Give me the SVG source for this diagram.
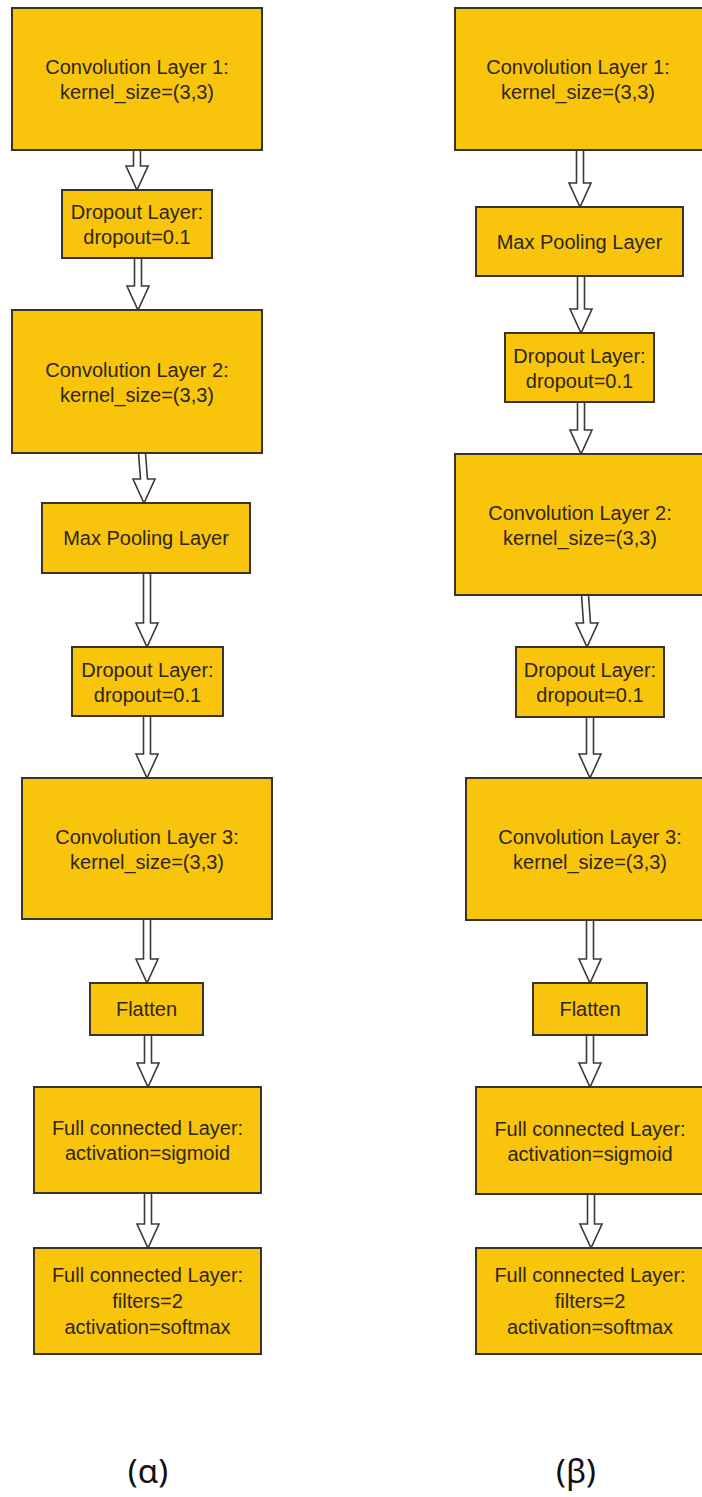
<svg xmlns="http://www.w3.org/2000/svg" width="702" height="1497" viewBox="0 0 702 1497">
  <style>
    .box { fill: #F9C40C; stroke: #3a3328; stroke-width: 2; }
    .lbl { font-family: "Liberation Sans", Arial, sans-serif; font-size: 20px; fill: #2e2614; text-anchor: middle; }
    .arrow { fill: #ffffff; stroke: #3a3a3a; stroke-width: 1.6; stroke-linejoin: miter; }
    .cap { font-family: "Noto Sans", "Open Sans", sans-serif; font-size: 33px; fill: #111111; text-anchor: middle; }
  </style>
  <rect width="702" height="1497" fill="#ffffff"/>

  <!-- connectors: hollow block arrows -->
  <g id="connectors">
    <!-- column (a) -->
    <polygon class="arrow" points="133.5,150 140.5,150 140.5,166 148,166 137,190 126,166 133.5,166"/>
    <polygon class="arrow" points="134.5,258 141.5,258 141.5,286 149,286 138,310 127,286 134.5,286"/>
    <polygon class="arrow" points="138.5,453 145.5,453 147.5,479 155,479 144,503 133,479 140.5,479"/>
    <polygon class="arrow" points="143.5,573 150.5,573 150.5,623 158,623 147,647 136,623 143.5,623"/>
    <polygon class="arrow" points="143.5,716 150.5,716 150.5,754 158,754 147,778 136,754 143.5,754"/>
    <polygon class="arrow" points="143.5,919 150.5,919 150.5,959 158,959 147,983 136,959 143.5,959"/>
    <polygon class="arrow" points="144.5,1035 151.5,1035 151.5,1063 159,1063 148,1087 137,1063 144.5,1063"/>
    <polygon class="arrow" points="144.5,1193 151.5,1193 151.5,1224 159,1224 148,1248 137,1224 144.5,1224"/>
    <!-- column (b) -->
    <polygon class="arrow" points="576.5,150 583.5,150 583.5,183 591,183 580,207 569,183 576.5,183"/>
    <polygon class="arrow" points="577.5,276 584.5,276 584.5,309 592,309 581,333 570,309 577.5,309"/>
    <polygon class="arrow" points="577.5,402 584.5,402 584.5,430 592,430 581,454 570,430 577.5,430"/>
    <polygon class="arrow" points="581.5,595 588.5,595 590.5,623 598,623 587,647 576,623 583.5,623"/>
    <polygon class="arrow" points="586.5,717 593.5,717 593.5,754 601,754 590,778 579,754 586.5,754"/>
    <polygon class="arrow" points="586.5,920 593.5,920 593.5,959 601,959 590,983 579,959 586.5,959"/>
    <polygon class="arrow" points="586.5,1035 593.5,1035 593.5,1063 601,1063 590,1087 579,1063 586.5,1063"/>
    <polygon class="arrow" points="587.5,1194 594.5,1194 594.5,1224 602,1224 591,1248 580,1224 587.5,1224"/>
  </g>

  <!-- column (a) nodes -->
  <g id="a-conv1">
    <rect class="box" x="12" y="8" width="250" height="142"/>
    <text class="lbl" x="137" y="74">Convolution Layer 1:</text>
    <text class="lbl" x="137" y="99">kernel_size=(3,3)</text>
  </g>
  <g id="a-dropout1">
    <rect class="box" x="62" y="190" width="150" height="68"/>
    <text class="lbl" x="137" y="219">Dropout Layer:</text>
    <text class="lbl" x="137" y="244">dropout=0.1</text>
  </g>
  <g id="a-conv2">
    <rect class="box" x="12" y="310" width="250" height="143"/>
    <text class="lbl" x="137" y="376.5">Convolution Layer 2:</text>
    <text class="lbl" x="137" y="401.5">kernel_size=(3,3)</text>
  </g>
  <g id="a-maxpool">
    <rect class="box" x="42" y="503" width="208" height="70"/>
    <text class="lbl" x="146" y="545">Max Pooling Layer</text>
  </g>
  <g id="a-dropout2">
    <rect class="box" x="72" y="647" width="151" height="69"/>
    <text class="lbl" x="147.5" y="676.5">Dropout Layer:</text>
    <text class="lbl" x="147.5" y="701.5">dropout=0.1</text>
  </g>
  <g id="a-conv3">
    <rect class="box" x="22" y="778" width="250" height="141"/>
    <text class="lbl" x="147" y="843.5">Convolution Layer 3:</text>
    <text class="lbl" x="147" y="868.5">kernel_size=(3,3)</text>
  </g>
  <g id="a-flatten">
    <rect class="box" x="90" y="983" width="113" height="52"/>
    <text class="lbl" x="146.5" y="1016">Flatten</text>
  </g>
  <g id="a-fc1">
    <rect class="box" x="34" y="1087" width="227" height="106"/>
    <text class="lbl" x="147.5" y="1135">Full connected Layer:</text>
    <text class="lbl" x="147.5" y="1160">activation=sigmoid</text>
  </g>
  <g id="a-fc2">
    <rect class="box" x="34" y="1248" width="227" height="106"/>
    <text class="lbl" x="147.5" y="1282">Full connected Layer:</text>
    <text class="lbl" x="147.5" y="1308">filters=2</text>
    <text class="lbl" x="147.5" y="1334">activation=softmax</text>
  </g>

  <!-- column (b) nodes -->
  <g id="b-conv1">
    <rect class="box" x="455" y="8" width="250" height="142"/>
    <text class="lbl" x="578" y="74">Convolution Layer 1:</text>
    <text class="lbl" x="578" y="99">kernel_size=(3,3)</text>
  </g>
  <g id="b-maxpool">
    <rect class="box" x="476" y="207" width="207" height="69"/>
    <text class="lbl" x="579.5" y="248.5">Max Pooling Layer</text>
  </g>
  <g id="b-dropout1">
    <rect class="box" x="505" y="333" width="149" height="69"/>
    <text class="lbl" x="579.5" y="362.5">Dropout Layer:</text>
    <text class="lbl" x="579.5" y="387.5">dropout=0.1</text>
  </g>
  <g id="b-conv2">
    <rect class="box" x="455" y="454" width="250" height="141"/>
    <text class="lbl" x="580" y="519.5">Convolution Layer 2:</text>
    <text class="lbl" x="580" y="544.5">kernel_size=(3,3)</text>
  </g>
  <g id="b-dropout2">
    <rect class="box" x="516" y="647" width="148" height="70"/>
    <text class="lbl" x="590" y="677">Dropout Layer:</text>
    <text class="lbl" x="590" y="702">dropout=0.1</text>
  </g>
  <g id="b-conv3">
    <rect class="box" x="466" y="778" width="250" height="142"/>
    <text class="lbl" x="590" y="844">Convolution Layer 3:</text>
    <text class="lbl" x="590" y="869">kernel_size=(3,3)</text>
  </g>
  <g id="b-flatten">
    <rect class="box" x="533" y="983" width="114" height="52"/>
    <text class="lbl" x="590" y="1016">Flatten</text>
  </g>
  <g id="b-fc1">
    <rect class="box" x="476" y="1087" width="230" height="107"/>
    <text class="lbl" x="590" y="1135.5">Full connected Layer:</text>
    <text class="lbl" x="590" y="1160.5">activation=sigmoid</text>
  </g>
  <g id="b-fc2">
    <rect class="box" x="476" y="1248" width="230" height="106"/>
    <text class="lbl" x="590" y="1282">Full connected Layer:</text>
    <text class="lbl" x="590" y="1308">filters=2</text>
    <text class="lbl" x="590" y="1334">activation=softmax</text>
  </g>

  <!-- column captions -->
  <text class="cap" x="148" y="1483">(α)</text>
  <text class="cap" x="576" y="1483">(β)</text>
</svg>
